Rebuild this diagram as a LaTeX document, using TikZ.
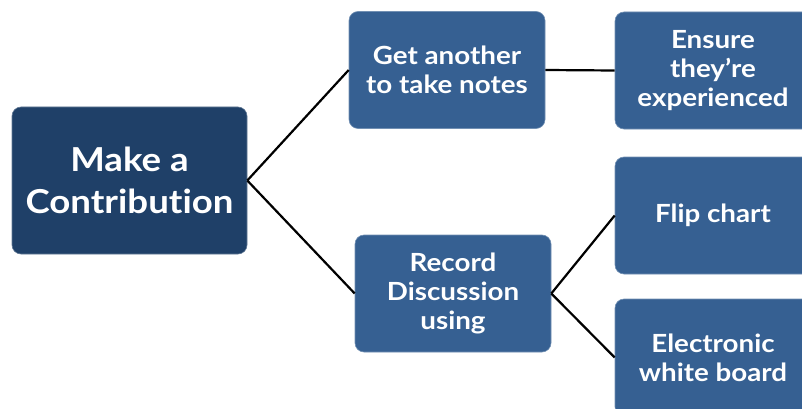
\documentclass[tikz,border=0pt]{standalone}
\usepackage{fontspec}
\setmainfont{Lato}[UprightFont=* Bold, FakeStretch=1.11, Ligatures=NoCommon]
\definecolor{rootblue}{HTML}{1F4068}
\definecolor{boxblue}{HTML}{366092}
\tikzset{
  box/.style={rectangle, rounded corners=9pt, fill=boxblue, draw=boxblue!70!white, line width=0.6pt,
    text=white, align=center, minimum width=196pt, minimum height=117pt, inner sep=0pt,
    font=\fontsize{25}{29}\selectfont},
  rootbox/.style={box, fill=rootblue, draw=rootblue!70!white, minimum width=235pt, minimum height=147pt,
    font=\fontsize{33}{42}\selectfont},
  link/.style={draw=black, line width=2.2pt}
}
\begin{document}
\begin{tikzpicture}[x=1pt,y=-1pt]
\useasboundingbox (0,0) rectangle (802,409);
\clip (0,0) rectangle (802,409);
\node[rootbox] (root) at (129.5,180.5) {Make a\\Contribution};
\node[box] (notes) at (447,70) {Get another\\to take notes};
\node[box] (ensure) at (713,70.5) {Ensure\\they’re\\experienced};
\node[box] (record) at (453,293.5) {Record\\Discussion\\using};
\node[box] (flip) at (713,215.5) {Flip chart};
\node[box] (board) at (713,357.5) {Electronic\\white board};
\draw[link] (root.east) -- (notes.west);
\draw[link] (root.east) -- (record.west);
\draw[link] (notes.east) -- (ensure.west);
\draw[link] (record.east) -- (flip.west);
\draw[link] (record.east) -- (board.west);
\end{tikzpicture}
\end{document}
